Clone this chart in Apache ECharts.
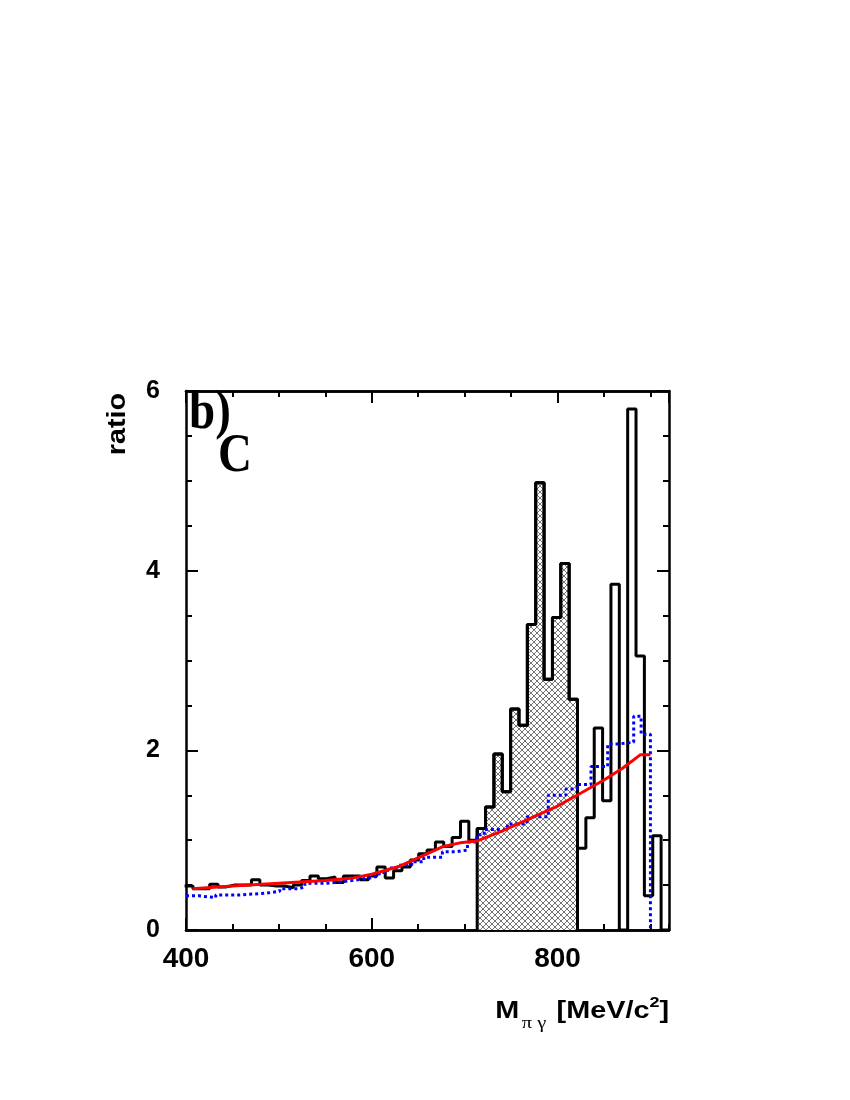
<!DOCTYPE html>
<html>
<head>
<meta charset="utf-8">
<script src="https://cdn.jsdelivr.net/npm/echarts@6.0.0/dist/echarts.min.js"></script>
<style>
  html, body { margin: 0; padding: 0; background: #fff; }
  #chart { width: 850px; height: 1100px; }
</style>
</head>
<body>
<div id="chart"></div>
<script>
// histogram: 9 MeV bins, first lower edge at 398.5 (clipped by the axis at 400)
const firstEdge = 398.5
const binWidth = 9
const ratioValues = [
  0.49,
  0.46, 0.46, 0.51, 0.48, 0.50, 0.50, 0.50, 0.56, 0.50, 0.49,
  0.49, 0.47, 0.50, 0.55, 0.60, 0.57, 0.59, 0.53, 0.60, 0.60,
  0.56, 0.60, 0.70, 0.58, 0.66, 0.70, 0.78, 0.85, 0.89, 0.98,
  0.93, 1.03, 1.21, 1.00, 1.13, 1.37, 1.96, 1.54, 2.46, 2.28,
  3.40, 4.98, 2.79, 3.48, 4.08, 2.57, 0.91, 1.25, 2.25, 1.44,
  3.85, 0.00, 5.80, 3.05, 0.38, 1.05, 0.00
]
// shaded signal window
const signalFrom = 713.5
const signalTo = 821.5

// blue dotted curve (step starts and values)
const blueX = [400, 414, 432, 458, 486, 501, 522, 528, 551, 570, 585, 598, 608, 617, 627, 643,
  656, 676, 690, 703, 713, 721, 746, 767, 790, 809, 821, 836, 854, 865, 882, 890, 900]
const blueY = [0.38, 0.36, 0.39, 0.41, 0.43, 0.46, 0.48, 0.52, 0.54, 0.56, 0.58, 0.60, 0.64, 0.69, 0.72, 0.76,
  0.81, 0.87, 0.89, 0.98, 1.06, 1.12, 1.18, 1.26, 1.50, 1.57, 1.62, 1.82, 2.07, 2.09, 2.38, 2.18, 0]

// red fit curve
const redX = [407, 450, 500, 550, 580, 600, 630, 660, 677, 695, 713, 740, 770, 800, 821, 850, 870, 889, 900]
const redY = [0.46, 0.49, 0.52, 0.55, 0.58, 0.62, 0.71, 0.85, 0.93, 0.97, 0.99, 1.10, 1.24, 1.38, 1.50, 1.67, 1.80, 1.95, 1.95]

const xTicksMajor = 200
const xTicksMinor = 50
const yTicksMajor = 2

const edges = ratioValues.map((_, i) => firstEdge + i * binWidth)

// step 'start' points: [upper edge, value]
const histData = [[edges[0], ratioValues[0]]].concat(ratioValues.map((v, i) => [edges[i] + binWidth, v]))
const signalData = [[signalFrom, 0]]
ratioValues.forEach((v, i) => {
  if (edges[i] >= signalFrom - 0.1 && edges[i] + binWidth <= signalTo + 0.1) signalData.push([edges[i] + binWidth, v])
})
signalData.push([signalTo, 0])

const blueData = blueX.map((x, i) => [x, blueY[i]])
blueData.splice(blueData.length - 1, 0, [900, blueY[blueY.length - 2]])
const redData = redX.map((x, i) => [x, redY[i]])

function crossHatch() {
  const c = document.createElement('canvas')
  c.width = 6
  c.height = 6
  const g = c.getContext('2d')
  g.fillStyle = '#fff'
  g.fillRect(0, 0, 6, 6)
  g.strokeStyle = '#505050'
  g.lineWidth = 0.8
  g.beginPath()
  g.moveTo(-1, -1); g.lineTo(7, 7)
  g.moveTo(7, -1); g.lineTo(-1, 7)
  g.stroke()
  return c
}

const black = '#000'
const frame = { show: true, lineStyle: { color: black, width: 2.5 } }
const xAxisBase = (pos, interval, len, labels) => ({
  type: 'value', position: pos, min: 400, max: 920, interval: interval,
  axisLine: frame,
  axisTick: { show: true, inside: true, length: len, lineStyle: { color: black, width: 2 } },
  axisLabel: labels ? {
    show: true, margin: 15, showMaxLabel: false,
    fontFamily: 'Liberation Sans', fontWeight: 'bold', fontSize: 28, color: black
  } : { show: false },
  splitLine: { show: false }
})
const yAxisBase = (pos, labels) => ({
  type: 'value', position: pos, min: 0, max: 6, interval: yTicksMajor,
  axisLine: frame,
  axisTick: { show: true, inside: true, length: 12, lineStyle: { color: black, width: 2 } },
  minorTick: { show: true, splitNumber: 4, length: 6, lineStyle: { color: black, width: 2 } },
  axisLabel: labels ? {
    show: true, margin: 26,
    fontFamily: 'Liberation Sans', fontWeight: 'bold', fontSize: 25, color: black
  } : { show: false },
  splitLine: { show: false }
})

const chart = echarts.init(document.getElementById('chart'), null, { renderer: 'canvas' })
chart.setOption({
  animation: false,
  backgroundColor: '#fff',
  grid: { left: 186, right: 181, top: 391, bottom: 170, containLabel: false },
  xAxis: [
    xAxisBase('bottom', xTicksMinor, 6, false),
    xAxisBase('bottom', xTicksMajor, 12, true),
    xAxisBase('top', xTicksMinor, 6, false),
    xAxisBase('top', xTicksMajor, 12, false)
  ],
  yAxis: [yAxisBase('left', true), yAxisBase('right', false)],
  series: [
    {
      type: 'line', step: 'start', data: signalData, showSymbol: false, z: 2,
      lineStyle: { color: black, width: 3 },
      areaStyle: { color: { image: crossHatch(), repeat: 'repeat' }, opacity: 1, origin: 'start' }
    },
    {
      type: 'line', step: 'start', data: histData, showSymbol: false, z: 3,
      lineStyle: { color: black, width: 3 }
    },
    {
      type: 'line', step: 'end', data: blueData, showSymbol: false, z: 4,
      lineStyle: { color: '#0000ff', width: 3, type: [3, 3] }
    },
    {
      type: 'line', smooth: false, data: redData, showSymbol: false, z: 5,
      lineStyle: { color: '#ff0000', width: 3, join: 'round' }
    }
  ],
  graphic: [
    {
      type: 'text', x: 189, y: 386, scaleY: 1.18, z: 10,
      style: { text: 'b)', fontFamily: 'Liberation Serif', fontWeight: 'bold', fontSize: 47, fill: black, verticalAlign: 'top' }
    },
    {
      type: 'text', x: 218, y: 429, scaleY: 1.18, z: 10,
      style: { text: 'C', fontFamily: 'Liberation Serif', fontWeight: 'bold', fontSize: 47, fill: black, verticalAlign: 'top' }
    },
    {
      type: 'text', x: 118, y: 424, rotation: Math.PI / 2, scaleX: 1.15, z: 10,
      style: { text: 'ratio', fontFamily: 'Liberation Sans', fontWeight: 'bold', fontSize: 25, fill: black, align: 'center', verticalAlign: 'middle' }
    },
    {
      type: 'text', x: 669, y: 1011, scaleX: 1.2, z: 10,
      style: {
        text: '{m|M}{s|π γ}{m| [MeV/c}{p|2}{m|]}',
        align: 'right', verticalAlign: 'middle', fill: black,
        rich: {
          m: { fontFamily: 'Liberation Sans', fontWeight: 'bold', fontSize: 24, fill: black },
          s: { fontFamily: 'Liberation Serif', fontSize: 17, fill: black, padding: [26, 2, 0, 2] },
          p: { fontFamily: 'Liberation Sans', fontWeight: 'bold', fontSize: 15, fill: black, padding: [0, 0, 16, 0] }
        }
      }
    }
  ]
})
</script>
</body>
</html>
